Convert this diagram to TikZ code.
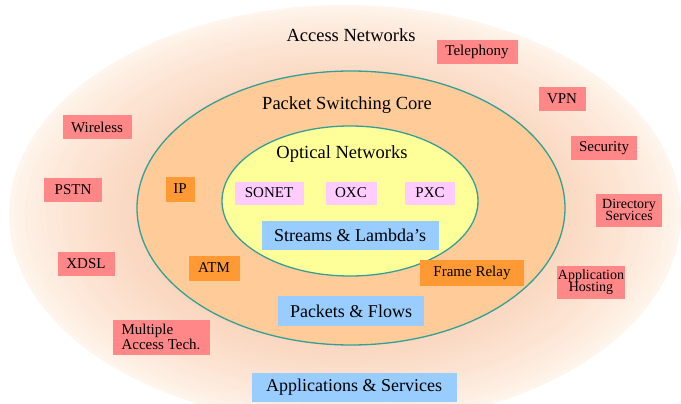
\documentclass[tikz,border=0pt]{standalone}
\usepackage{fontspec}
\setmainfont{Liberation Serif}
\newfontfamily\labelfont{Liberation Serif}
\definecolor{peach}{RGB}{250,214,190}
\definecolor{edgecol}{RGB}{255,245,236}
\definecolor{corefill}{RGB}{255,204,153}
\definecolor{optfill}{RGB}{255,255,153}
\definecolor{rimcol}{RGB}{51,160,150}
\definecolor{accbox}{RGB}{255,135,135}
\definecolor{corebox}{RGB}{255,153,51}
\definecolor{optbox}{RGB}{255,204,255}
\definecolor{flowbox}{RGB}{153,204,255}
\tikzset{
  boxbase/.style={inner sep=0pt, text=black, align=center},
  acc/.style={boxbase, fill=accbox, font=\labelfont\fontsize{15}{15}\selectfont, minimum height=24pt},
  acctwo/.style={boxbase, fill=accbox, font=\labelfont\fontsize{14}{12.5}\selectfont, minimum height=33pt},
  corel/.style={boxbase, fill=corebox, font=\labelfont\fontsize{15}{15}\selectfont, minimum height=25pt},
  optl/.style={boxbase, fill=optbox, font=\labelfont\fontsize{15}{15}\selectfont, minimum height=23pt},
  flow/.style={boxbase, fill=flowbox, font=\labelfont\fontsize{18}{18}\selectfont, minimum height=29pt},
  title/.style={inner sep=0pt, font=\labelfont\fontsize{18.5}{18.5}\selectfont},
  rim/.style={draw=rimcol, line width=1.3pt}
}
\begin{document}
\begin{tikzpicture}[x=1pt,y=-1pt]
\useasboundingbox (0,0) rectangle (681,404);
% outer glow: layered ellipses fading to the rim
\foreach \i in {0,...,24}{
  \pgfmathsetmacro{\f}{1-0.38*\i/24}
  \pgfmathsetmacro{\p}{100*(\i/24)^0.8}
  \fill[peach!\p!edgecol] (345,215) ellipse [x radius=336*\f, y radius=210*\f];
}
\path[rim, fill=corefill] (351,208) ellipse [x radius=214, y radius=137];
\path[rim, fill=optfill] (350,201) ellipse [x radius=128, y radius=75];
% titles
\node[title] (access) at (351,35) {Access Networks};
\node[title] (core) at (347,105) {Packet Switching Core};
\node[title] (optical) at (342,154) {Optical Networks};
% access ring
\node[acc, minimum width=81pt] (tel) at (477,52) {Telephony};
\node[acc, minimum width=47pt] (vpn) at (562,99) {VPN};
\node[acc, minimum width=66pt] (sec) at (604,148) {Security};
\node[acctwo, minimum width=66pt] (dir) at (629,210) {Directory\\Services};
\node[acctwo, minimum width=68pt] (host) at (591,282) {Application\\Hosting};
\node[acc, minimum width=69pt] (wl) at (97,127) {Wireless};
\node[acc, minimum width=58pt] (pstn) at (73,190) {PSTN};
\node[acc, minimum width=57pt] (xdsl) at (86,264) {XDSL};
\node[acctwo, align=left, font=\labelfont\fontsize{15}{13}\selectfont, minimum width=97pt, minimum height=35pt] (mat) at (161,337) {Multiple\\Access Tech.};
\node[flow, minimum width=205pt] (apps) at (354,387) {Applications \& Services};
% core ring
\node[corel, minimum width=29pt] (ip) at (180,189) {IP};
\node[corel, minimum width=51pt] (atm) at (214,268) {ATM};
\node[corel, minimum width=104pt, minimum height=26pt] (fr) at (472,273) {Frame Relay};
\node[flow, minimum width=146pt, minimum height=30pt] (pkt) at (351,311) {Packets \& Flows};
% optical
\node[optl, minimum width=69pt] (sonet) at (269,193) {SONET};
\node[optl, minimum width=51pt] (oxc) at (351,193) {OXC};
\node[optl, minimum width=50pt] (pxc) at (430,193) {PXC};
\node[flow, minimum width=177pt] (str) at (350,235) {Streams \& Lambda’s};
\end{tikzpicture}
\end{document}
